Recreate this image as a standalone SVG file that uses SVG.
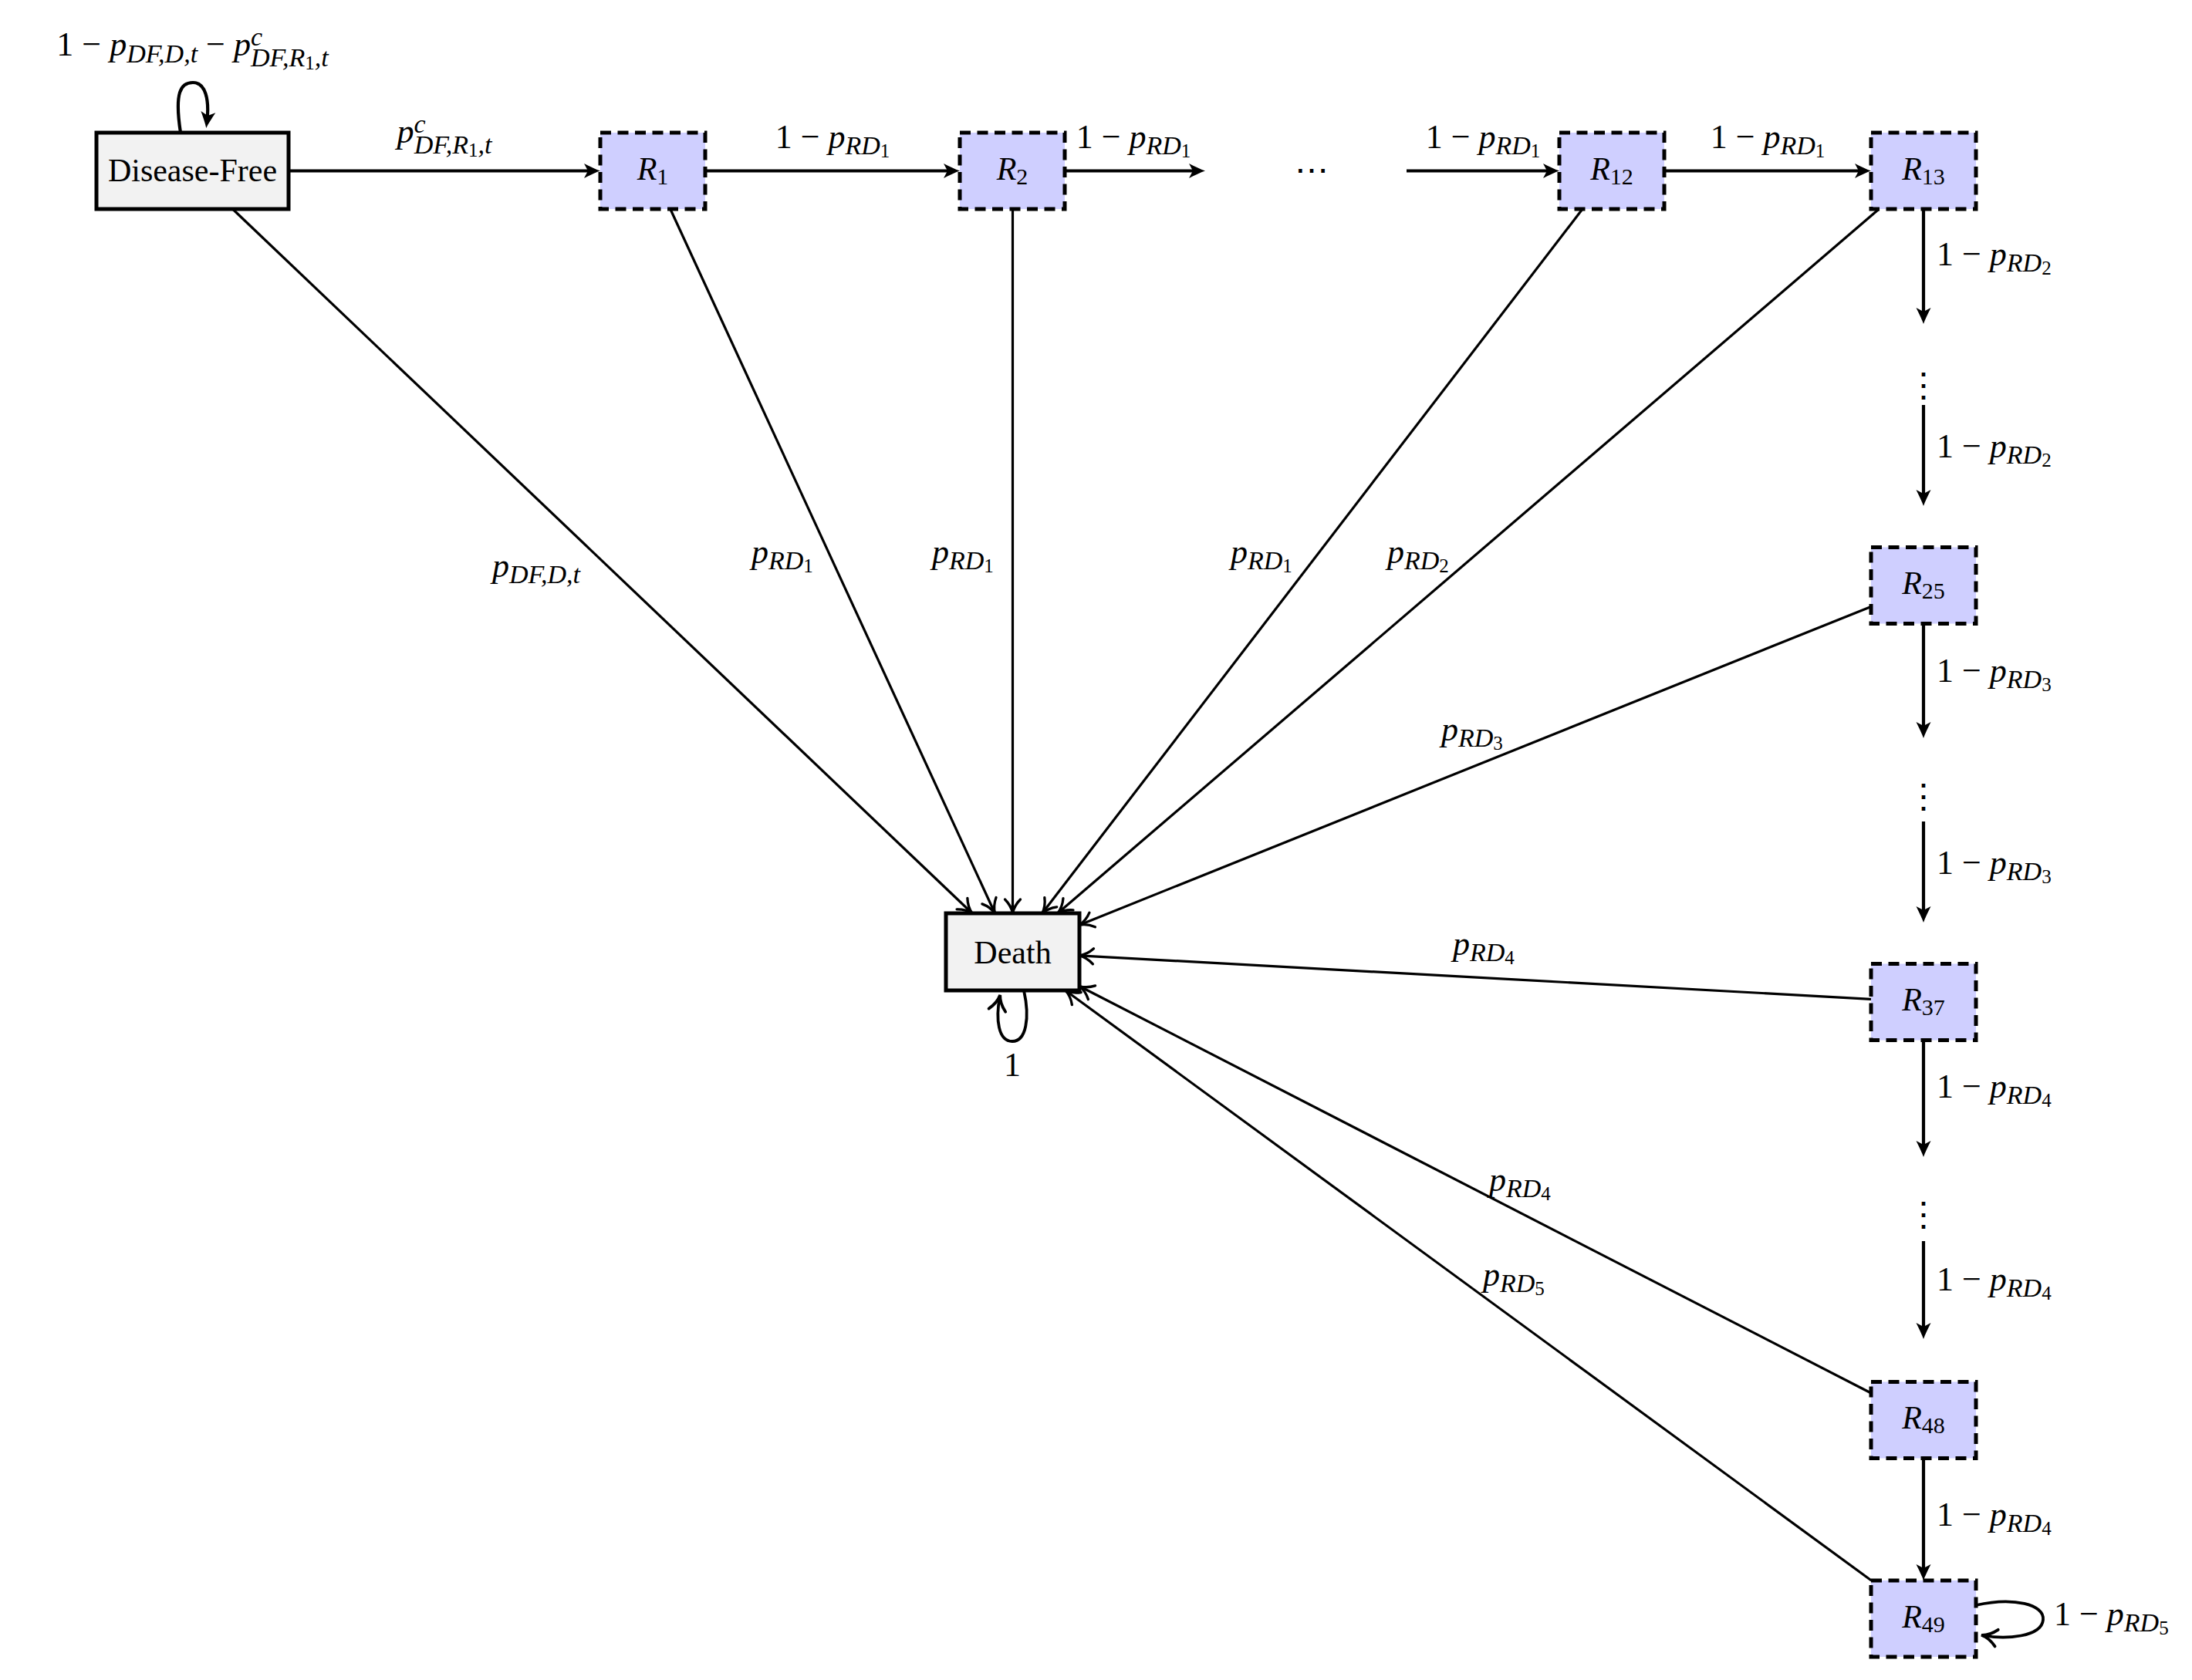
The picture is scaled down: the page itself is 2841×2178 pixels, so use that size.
<svg xmlns="http://www.w3.org/2000/svg" width="2841" height="2178" viewBox="0 0 2841 2178">
<style>
text { font-family: "Liberation Serif", "DejaVu Serif", serif; fill: #000; font-size: 42px; }
.m { font-size: 44px; }
.i { font-style: italic; }
.s { font-size: 34px; font-style: italic; }
.ss { font-size: 25px; font-style: normal; }
.rs { font-size: 30px; font-style: normal; }
.dots { font-family: "DejaVu Serif", "Liberation Serif", serif; font-size: 44px; }
.box { fill: #f2f2f2; stroke: #000; stroke-width: 5; }
.rbox { fill: #cfcfff; stroke: #000; stroke-width: 5; stroke-dasharray: 14 8.5; }
.ch { stroke: #000; stroke-width: 4.2; fill: none; marker-end: url(#st); }
.dg { stroke: #000; stroke-width: 3.2; fill: none; marker-end: url(#to); }
.lp { stroke: #000; stroke-width: 3.8; fill: none; marker-end: url(#tok); }
</style>
<defs>
<marker id="st" markerUnits="userSpaceOnUse" viewBox="-30 -20 50 40" markerWidth="50" markerHeight="40" refX="0" refY="0" orient="auto" overflow="visible">
<path d="M6,0 C0,-2 -8,-6 -15,-9.5 L-10,0 L-15,9.5 C-8,6 0,2 6,0 Z" fill="#000"/>
</marker>
<marker id="to" markerUnits="userSpaceOnUse" viewBox="-30 -20 50 40" markerWidth="50" markerHeight="40" refX="0" refY="0" orient="auto" overflow="visible">
<path d="M-18,-10 C-12,-4 -5,-1 0,0 C-5,1 -12,4 -18,10" fill="none" stroke="#000" stroke-width="3.3" stroke-linecap="round"/>
</marker>
<marker id="tok" markerUnits="userSpaceOnUse" viewBox="-30 -20 50 40" markerWidth="50" markerHeight="40" refX="0" refY="0" orient="auto" overflow="visible">
<path d="M-19,-11 C-12,-4 -5,-1 1,0 C-5,1 -12,4 -19,11" fill="none" stroke="#000" stroke-width="3.8" stroke-linecap="round"/>
</marker>
</defs>
<rect width="2841" height="2178" fill="#fff"/>

<g id="connectors">
<path class="ch" d="M374 221.5 H772"/>
<path class="ch" d="M914 221.5 H1238"/>
<path class="ch" d="M1380 221.5 H1556"/>
<path class="ch" d="M1823 221.5 H2015"/>
<path class="ch" d="M2157 221.5 H2419"/>
<path class="ch" d="M2493 271 V414"/>
<path class="ch" d="M2493 525 V650"/>
<path class="ch" d="M2493 808 V951"/>
<path class="ch" d="M2493 1065 V1190"/>
<path class="ch" d="M2493 1348 V1494"/>
<path class="ch" d="M2493 1609 V1730"/>
<path class="ch" d="M2493 1891 V2043"/>
<path class="dg" d="M301.5 271 L1260 1184"/>
<path class="dg" d="M868.8 271 L1289.5 1184"/>
<path class="dg" d="M1312.5 271 L1312.5 1184"/>
<path class="dg" d="M2051 271 L1350.8 1184"/>
<path class="dg" d="M2435.3 271 L1370.8 1184"/>
<path class="dg" d="M2425 786.4 L1399 1199.2"/>
<path class="dg" d="M2425 1295.3 L1399 1238.8"/>
<path class="dg" d="M2425 1806 L1399 1278.5"/>
<path class="dg" d="M2425.4 2049 L1380.8 1284"/>
<path class="ch" d="M234 172 C226 120 234 107 250 107 C266 107 272 128 268 160"/>
<path class="lp" d="M1327 1284 C1335 1320 1330 1350 1312 1350 C1294 1350 1290 1322 1296 1291"/>
<path class="lp" d="M2561 2081 C2610 2070 2650 2080 2648 2100 C2646 2122 2600 2126 2569 2120"/>
</g>

<g id="labels">
<text class="m" x="249.5" y="72" text-anchor="middle">1 − <tspan class="i">p</tspan><tspan class="s" dy="9">DF,D,t</tspan><tspan dy="-9"> − </tspan><tspan class="i">p</tspan><tspan class="s" dy="-13">c</tspan><tspan class="s" dx="-15" dy="27">DF,R</tspan><tspan class="ss" dy="4">1</tspan><tspan class="s" dy="-4">,t</tspan></text>
<text class="m" x="576" y="185" text-anchor="middle"><tspan class="i">p</tspan><tspan class="s" dy="-13">c</tspan><tspan class="s" dx="-15" dy="27">DF,R</tspan><tspan class="ss" dy="4">1</tspan><tspan class="s" dy="-4">,t</tspan></text>
<text class="m" x="1079" y="192" text-anchor="middle">1 − <tspan class="i">p</tspan><tspan class="s" dy="8">RD</tspan><tspan class="ss" dy="4">1</tspan></text>
<text class="m" x="1469" y="192" text-anchor="middle">1 − <tspan class="i">p</tspan><tspan class="s" dy="8">RD</tspan><tspan class="ss" dy="4">1</tspan></text>
<text class="m" x="1922" y="192" text-anchor="middle">1 − <tspan class="i">p</tspan><tspan class="s" dy="8">RD</tspan><tspan class="ss" dy="4">1</tspan></text>
<text class="m" x="2291" y="192" text-anchor="middle">1 − <tspan class="i">p</tspan><tspan class="s" dy="8">RD</tspan><tspan class="ss" dy="4">1</tspan></text>
<text class="dots" x="1700" y="235" text-anchor="middle">⋯</text>

<text class="m" x="2510" y="344">1 − <tspan class="i">p</tspan><tspan class="s" dy="8">RD</tspan><tspan class="ss" dy="4">2</tspan></text>
<text class="dots" x="2493" y="514" text-anchor="middle">⋮</text>
<text class="m" x="2510" y="593">1 − <tspan class="i">p</tspan><tspan class="s" dy="8">RD</tspan><tspan class="ss" dy="4">2</tspan></text>
<text class="m" x="2510" y="884">1 − <tspan class="i">p</tspan><tspan class="s" dy="8">RD</tspan><tspan class="ss" dy="4">3</tspan></text>
<text class="dots" x="2493" y="1047" text-anchor="middle">⋮</text>
<text class="m" x="2510" y="1133">1 − <tspan class="i">p</tspan><tspan class="s" dy="8">RD</tspan><tspan class="ss" dy="4">3</tspan></text>
<text class="m" x="2510" y="1423">1 − <tspan class="i">p</tspan><tspan class="s" dy="8">RD</tspan><tspan class="ss" dy="4">4</tspan></text>
<text class="dots" x="2493" y="1589" text-anchor="middle">⋮</text>
<text class="m" x="2510" y="1673">1 − <tspan class="i">p</tspan><tspan class="s" dy="8">RD</tspan><tspan class="ss" dy="4">4</tspan></text>
<text class="m" x="2510" y="1978">1 − <tspan class="i">p</tspan><tspan class="s" dy="8">RD</tspan><tspan class="ss" dy="4">4</tspan></text>
<text class="m" x="2662" y="2107">1 − <tspan class="i">p</tspan><tspan class="s" dy="8">RD</tspan><tspan class="ss" dy="4">5</tspan></text>

<text class="m" x="638" y="748"><tspan class="i">p</tspan><tspan class="s" dy="8">DF,D,t</tspan></text>
<text class="m" x="974" y="730"><tspan class="i">p</tspan><tspan class="s" dy="8">RD</tspan><tspan class="ss" dy="4">1</tspan></text>
<text class="m" x="1208" y="730"><tspan class="i">p</tspan><tspan class="s" dy="8">RD</tspan><tspan class="ss" dy="4">1</tspan></text>
<text class="m" x="1595" y="730"><tspan class="i">p</tspan><tspan class="s" dy="8">RD</tspan><tspan class="ss" dy="4">1</tspan></text>
<text class="m" x="1798" y="730"><tspan class="i">p</tspan><tspan class="s" dy="8">RD</tspan><tspan class="ss" dy="4">2</tspan></text>
<text class="m" x="1868" y="960"><tspan class="i">p</tspan><tspan class="s" dy="8">RD</tspan><tspan class="ss" dy="4">3</tspan></text>
<text class="m" x="1883" y="1238"><tspan class="i">p</tspan><tspan class="s" dy="8">RD</tspan><tspan class="ss" dy="4">4</tspan></text>
<text class="m" x="1930" y="1544"><tspan class="i">p</tspan><tspan class="s" dy="8">RD</tspan><tspan class="ss" dy="4">4</tspan></text>
<text class="m" x="1922" y="1667"><tspan class="i">p</tspan><tspan class="s" dy="8">RD</tspan><tspan class="ss" dy="4">5</tspan></text>
<text class="m" x="1312" y="1395" text-anchor="middle">1</text>
</g>

<g id="node-disease-free">
<rect class="box" x="125" y="172" width="249" height="99"/>
<text x="249.5" y="235" text-anchor="middle">Disease-Free</text>
</g>
<g id="node-death">
<rect class="box" x="1226" y="1184" width="173" height="100"/>
<text x="1312.5" y="1249" text-anchor="middle">Death</text>
</g>
<g id="node-R1">
<rect class="rbox" x="778" y="172" width="136" height="99"/>
<text x="846" y="233" text-anchor="middle"><tspan class="i">R</tspan><tspan class="rs" dy="6">1</tspan></text>
</g>
<g id="node-R2">
<rect class="rbox" x="1244" y="172" width="136" height="99"/>
<text x="1312" y="233" text-anchor="middle"><tspan class="i">R</tspan><tspan class="rs" dy="6">2</tspan></text>
</g>
<g id="node-R12">
<rect class="rbox" x="2021" y="172" width="136" height="99"/>
<text x="2089" y="233" text-anchor="middle"><tspan class="i">R</tspan><tspan class="rs" dy="6">12</tspan></text>
</g>
<g id="node-R13">
<rect class="rbox" x="2425" y="172" width="136" height="99"/>
<text x="2493" y="233" text-anchor="middle"><tspan class="i">R</tspan><tspan class="rs" dy="6">13</tspan></text>
</g>
<g id="node-R25">
<rect class="rbox" x="2425" y="709.5" width="136" height="99"/>
<text x="2493" y="770" text-anchor="middle"><tspan class="i">R</tspan><tspan class="rs" dy="6">25</tspan></text>
</g>
<g id="node-R37">
<rect class="rbox" x="2425" y="1249.5" width="136" height="99"/>
<text x="2493" y="1310" text-anchor="middle"><tspan class="i">R</tspan><tspan class="rs" dy="6">37</tspan></text>
</g>
<g id="node-R48">
<rect class="rbox" x="2425" y="1791.5" width="136" height="99"/>
<text x="2493" y="1852" text-anchor="middle"><tspan class="i">R</tspan><tspan class="rs" dy="6">48</tspan></text>
</g>
<g id="node-R49">
<rect class="rbox" x="2425" y="2049" width="136" height="99"/>
<text x="2493" y="2110" text-anchor="middle"><tspan class="i">R</tspan><tspan class="rs" dy="6">49</tspan></text>
</g>
</svg>
